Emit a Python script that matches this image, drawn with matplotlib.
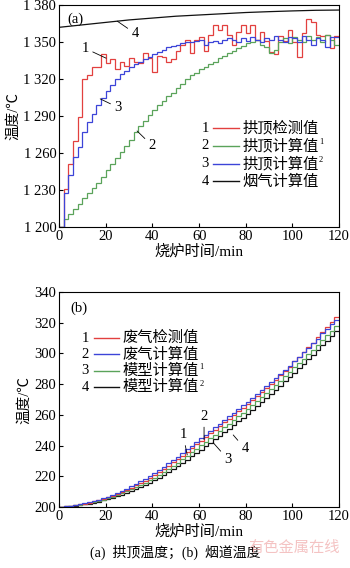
import numpy as np
import matplotlib
matplotlib.use('Agg')
import matplotlib.pyplot as plt

plt.rcParams['font.family'] = ['Liberation Serif', 'Noto Sans CJK SC', 'DejaVu Sans']
plt.rcParams['axes.linewidth'] = 0.8

# time edges of the 2-min steps
edges = np.arange(0, 122, 2)

# (a) vault temperature, one value per 2-min step
vault_measured = [1200, 1231, 1251, 1270, 1289, 1320, 1323, 1330, 1330, 1340,
                  1333, 1336, 1328, 1334, 1331, 1337, 1334, 1333, 1341, 1337,
                  1326, 1339, 1338, 1334, 1336, 1343, 1348, 1352, 1341, 1352,
                  1354, 1343, 1356, 1364, 1360, 1364, 1356, 1348, 1358, 1364,
                  1357, 1364, 1352, 1358, 1351, 1342, 1340, 1355, 1351, 1360,
                  1350, 1338, 1357, 1369, 1366, 1356, 1355, 1356, 1345, 1355]
vault_calc1 = [1200, 1207, 1211, 1215, 1219, 1224, 1228, 1232, 1236, 1241,
               1246, 1251, 1256, 1261, 1266, 1271, 1277, 1282, 1286, 1291,
               1295, 1299, 1302, 1306, 1309, 1313, 1316, 1320, 1323, 1325,
               1328, 1330, 1332, 1334, 1337, 1339, 1341, 1343, 1345, 1347,
               1349, 1350, 1352, 1348, 1346, 1341, 1344, 1350, 1353, 1349,
               1354, 1352, 1350, 1355, 1352, 1354, 1350, 1356, 1352, 1348]
vault_calc2 = [1200, 1228, 1242, 1257, 1265, 1277, 1285, 1292, 1299, 1305,
               1310, 1315, 1320, 1324, 1327, 1330, 1332, 1334, 1336, 1338,
               1340, 1342, 1344, 1346, 1347, 1348, 1349, 1350, 1350, 1351,
               1352, 1348, 1350, 1351, 1349, 1352, 1353, 1352, 1350, 1353,
               1351, 1354, 1352, 1350, 1353, 1352, 1355, 1352, 1350, 1354,
               1353, 1350, 1355, 1352, 1348, 1353, 1352, 1346, 1354, 1354]
flue_t = [0, 10, 20, 30, 40, 50, 60, 70, 80, 90, 100, 110, 120]
flue_gas = [1362, 1364, 1366, 1368, 1369.5, 1371, 1372, 1373, 1374, 1374.7, 1375.3, 1375.8, 1376]

# (b) flue temperature
waste_measured = [200.2, 200.6, 201.0, 201.4, 201.8, 202.3, 203.0, 203.8, 204.6, 205.5,
                  206.5, 207.6, 208.8, 210.0, 211.3, 212.7, 214.2, 215.7, 217.3, 219.0,
                  220.9, 222.9, 225.0, 227.1, 229.2, 231.4, 233.6, 236.0, 238.4, 240.8,
                  243.2, 245.6, 248.0, 250.4, 252.8, 255.2, 257.6, 260.0, 262.4, 264.8,
                  267.3, 269.8, 272.4, 275.0, 277.6, 280.3, 283.0, 285.7, 288.4, 291.2,
                  295.0, 298.0, 301.0, 304.0, 307.0, 310.5, 314.0, 317.0, 320.5, 324.0]
waste_calc = [200.3, 200.7, 201.1, 201.6, 202.1, 202.6, 203.3, 204.1, 204.9, 205.8,
              206.9, 208.1, 209.4, 210.7, 212.1, 213.6, 215.2, 216.8, 218.5, 220.3,
              222.2, 224.2, 226.3, 228.5, 230.7, 232.9, 235.2, 237.6, 240.0, 242.4,
              244.8, 247.2, 249.6, 252.0, 254.4, 256.8, 259.2, 261.6, 264.0, 266.3,
              268.7, 271.1, 273.6, 276.1, 278.6, 281.2, 283.8, 286.4, 289.0, 291.7,
              295.0, 297.8, 300.7, 303.6, 306.5, 309.7, 313.0, 316.0, 319.0, 322.0]
model_calc1 = [200.2, 200.5, 200.9, 201.3, 201.7, 202.1, 202.7, 203.4, 204.2, 205.0,
               205.9, 206.9, 208.0, 209.1, 210.3, 211.6, 213.0, 214.4, 215.9, 217.5,
               219.2, 221.0, 222.9, 224.9, 226.9, 229.0, 231.1, 233.3, 235.6, 237.9,
               240.2, 242.5, 244.8, 247.2, 249.6, 252.0, 254.4, 256.8, 259.2, 261.6,
               264.0, 266.5, 269.1, 271.7, 274.3, 277.0, 279.7, 282.4, 285.1, 287.9,
               291.0, 293.8, 296.7, 299.6, 302.5, 305.6, 308.7, 311.7, 314.8, 318.0]
model_calc2 = [200.1, 200.4, 200.7, 201.1, 201.5, 201.9, 202.4, 203.0, 203.7, 204.4,
               205.2, 206.1, 207.1, 208.1, 209.2, 210.4, 211.7, 213.0, 214.4, 215.9,
               217.5, 219.2, 221.0, 222.8, 224.7, 226.7, 228.7, 230.8, 233.0, 235.2,
               237.4, 239.6, 241.8, 244.1, 246.4, 248.7, 251.0, 253.4, 255.8, 258.2,
               260.7, 263.2, 265.8, 268.4, 271.0, 273.7, 276.4, 279.1, 281.8, 284.6,
               287.6, 290.5, 293.4, 296.3, 299.2, 302.3, 305.4, 308.4, 311.5, 314.8]

yticks_a = [1200, 1230, 1260, 1290, 1320, 1350, 1380]
ylabels_a = ['1 200', '1 230', '1 260', '1 290', '1 320', '1 350', '1 380']
yticks_b = [200, 220, 240, 260, 280, 300, 320, 340]
xticks = [0, 20, 40, 60, 80, 100, 120]

RED = '#e2403f'
BLUE = '#3c44d8'
GREEN = '#5aa35a'
BLACK = '#111111'

fig = plt.figure(figsize=(3.5, 5.68), dpi=100)
ax1 = fig.add_axes([0.169, 0.600, 0.800, 0.391])
ax2 = fig.add_axes([0.169, 0.107, 0.800, 0.379])

lw = 0.9
ax1.stairs(vault_measured, edges, color=RED, lw=lw, baseline=None)
ax1.stairs(vault_calc1, edges, color=GREEN, lw=lw, baseline=None)
ax1.stairs(vault_calc2, edges, color=BLUE, lw=lw, baseline=None)
ax1.plot(flue_t, flue_gas, color=BLACK, lw=lw)

ax2.stairs(model_calc2, edges, color=BLACK, lw=lw, baseline=None)
ax2.stairs(model_calc1, edges, color=GREEN, lw=lw, baseline=None)
ax2.stairs(waste_measured, edges, color=RED, lw=lw, baseline=None)
ax2.stairs(waste_calc, edges, color=BLUE, lw=lw, baseline=None)

for ax in (ax1, ax2):
    ax.set_xlim(0, 120)
    ax.set_xticks(xticks)
    ax.tick_params(direction='in', length=3, width=0.8, labelsize=10.5, pad=2)
    ax.set_xlabel('烧炉时间/min', fontsize=11, labelpad=1)
    ax.set_ylabel('温度/℃', fontsize=10.5, labelpad=2)

ax1.set_ylim(1200, 1380)
ax1.set_yticks(yticks_a)
ax1.set_yticklabels(ylabels_a)
ax2.set_ylim(200, 340)
ax2.set_yticks(yticks_b)

ax1.text(0.03, 0.965, '(a)', transform=ax1.transAxes, fontsize=10.5, va='top')
ax2.text(0.04, 0.955, '(b)', transform=ax2.transAxes, fontsize=10.5, va='top')

# curve labels
def tag(ax, s, xy, xytext):
    ax.annotate(s, xy=xy, xytext=xytext, fontsize=10.5, ha='center', va='center',
                arrowprops=dict(arrowstyle='-', color='black', lw=0.6, shrinkA=1, shrinkB=0))

tag(ax1, '4', (24.9, 1367), (32.6, 1357))
tag(ax1, '1', (20.1, 1337), (11.1, 1345))
tag(ax1, '3', (17.6, 1304), (25.3, 1297))
tag(ax1, '2', (33.4, 1278), (39.9, 1266))

tag(ax2, '1', (54.9, 234), (53.1, 247))
tag(ax2, '2', (62.1, 244), (62.1, 259))
tag(ax2, '3', (66.0, 242), (72.4, 231))
tag(ax2, '4', (74.6, 247), (79.7, 238))

# hand-drawn legends
def legend(ax, x0, y0, dy, entries):
    for k, (num, col, name, sup) in enumerate(entries):
        y = y0 - k * dy
        ax.text(x0, y, num, transform=ax.transAxes, fontsize=10.5, ha='center', va='center')
        ax.plot([x0 + 0.03, x0 + 0.12], [y, y], transform=ax.transAxes, color=col, lw=1.0)
        t = ax.text(x0 + 0.135, y, name, transform=ax.transAxes, fontsize=11, va='center')
        if sup:
            ax.annotate(sup, xy=(1, 0.75), xycoords=t, fontsize=6, va='center')

legend(ax1, 0.521, 0.446, 0.080, [
    ('1', RED, '拱顶检测值', ''),
    ('2', GREEN, '拱顶计算值', '1'),
    ('3', BLUE, '拱顶计算值', '2'),
    ('4', BLACK, '烟气计算值', ''),
])
legend(ax2, 0.093, 0.786, 0.076, [
    ('1', RED, '废气检测值', ''),
    ('2', BLUE, '废气计算值', ''),
    ('3', GREEN, '模型计算值', '1'),
    ('4', BLACK, '模型计算值', '2'),
])

fig.text(0.5, 0.028, '(a)  拱顶温度；(b)  烟道温度', ha='center', va='center', fontsize=10)
fig.text(0.84, 0.035, '有色金属在线', ha='center', va='center', fontsize=11,
         color='#f2b4b4', alpha=0.8)

fig.savefig('out.png', dpi=100)
